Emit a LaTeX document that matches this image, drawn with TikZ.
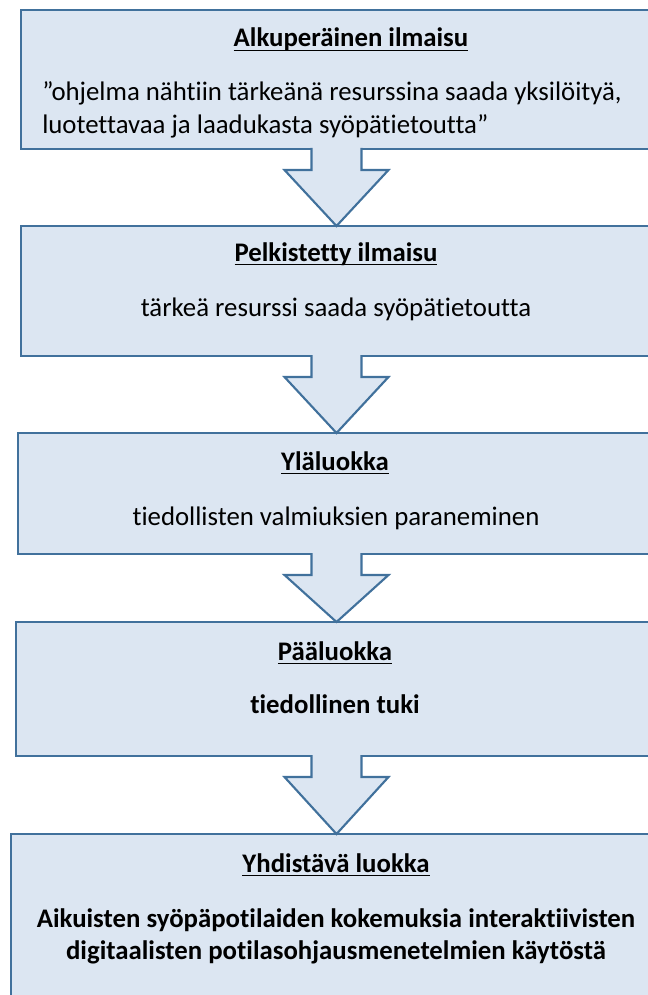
\documentclass[tikz,border=0pt]{standalone}
\usepackage{fontspec}
\setmainfont{Carlito}[Ligatures={NoCommon}]
\usetikzlibrary{calc}
\definecolor{boxfill}{HTML}{DCE6F2}
\definecolor{boxline}{HTML}{41719C}
\newcommand{\hd}[1]{\setbox0\hbox{\bfseries #1}\rlap{\rule[-3.2pt]{\wd0}{1.3pt}}\box0}
\tikzset{
  box/.style={draw=boxline, fill=boxfill, line width=1.6pt, outer sep=0pt, inner sep=0pt, anchor=north west},
  txt/.style={anchor=base, inner sep=0pt, font=\fontsize{20.1pt}{24.5pt}\selectfont},
  arrowfill/.style={fill=boxfill},
  arrowline/.style={draw=boxline, line width=1.6pt, line join=miter}
}
\newcommand{\blockarrow}[2]{%
  \path[arrowfill] ($(ax|-#1.south)+(-25,-2)$) -- ($(ax|-#1.south)+(-25,21)$) -- ($(ax|-#1.south)+(-52,21)$) -- (ax|-#2.north) -- ($(ax|-#1.south)+(52,21)$) -- ($(ax|-#1.south)+(25,21)$) -- ($(ax|-#1.south)+(25,-2)$) -- cycle;
  \draw[arrowline] ($(ax|-#1.south)+(-25,-1)$) -- ($(ax|-#1.south)+(-25,21)$) -- ($(ax|-#1.south)+(-52,21)$) -- (ax|-#2.north) -- ($(ax|-#1.south)+(52,21)$) -- ($(ax|-#1.south)+(25,21)$) -- ($(ax|-#1.south)+(25,-1)$);
}
\begin{document}
\begin{tikzpicture}[x=0.75pt, y=-0.75pt]
\useasboundingbox (0,0) rectangle (647,995);
\coordinate (ax) at (336.5,0);
% boxes (their right and bottom sides lie beyond the page)
\node[box, minimum width=520pt, minimum height=139*0.75pt] (b1) at (21,10) {};
\node[box, minimum width=520pt, minimum height=130*0.75pt] (b2) at (21,226) {};
\node[box, minimum width=520pt, minimum height=121*0.75pt] (b3) at (18,433) {};
\node[box, minimum width=520pt, minimum height=134*0.75pt] (b4) at (16,622) {};
\node[box, minimum width=520pt, minimum height=180*0.75pt] (b5) at (11,834) {};
% arrows
\blockarrow{b1}{b2}
\blockarrow{b2}{b3}
\blockarrow{b3}{b4}
\blockarrow{b4}{b5}
% texts
\node[txt] (t1) at (351,47) {\hd{Alkuperäinen ilmaisu}};
\node[txt, anchor=base west] (t1a) at (42,101) {”ohjelma nähtiin tärkeänä resurssina saada yksilöityä,};
\node[txt, anchor=base west] (t1b) at (42,134) {luotettavaa ja laadukasta syöpätietoutta”};
\node[txt] (t2) at (336,261) {\hd{Pelkistetty ilmaisu}};
\node[txt] (t2a) at (336,316) {tärkeä resurssi saada syöpätietoutta};
\node[txt] (t3) at (335,470) {\hd{Yläluokka}};
\node[txt] (t3a) at (336,525) {tiedollisten valmiuksien paraneminen};
\node[txt] (t4) at (335,660) {\hd{Pääluokka}};
\node[txt] (t4a) at (335,713) {\bfseries tiedollinen tuki};
\node[txt] (t5) at (336,872) {\hd{Yhdistävä luokka}};
\node[txt] (t5a) at (336,927) {\bfseries Aikuisten syöpäpotilaiden kokemuksia interaktiivisten};
\node[txt] (t5b) at (336,959) {\bfseries digitaalisten potilasohjausmenetelmien käytöstä};
\end{tikzpicture}
\end{document}
